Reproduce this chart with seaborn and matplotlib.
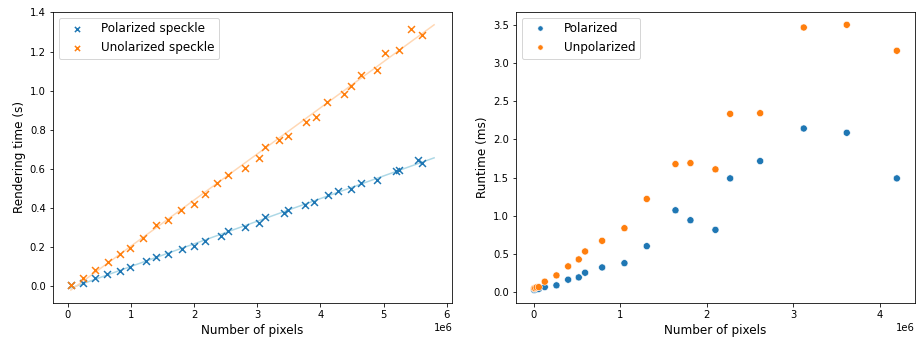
import numpy as np
import pandas as pd
import matplotlib
matplotlib.use("Agg")
import matplotlib.pyplot as plt
import seaborn as sns

# ---- Rendering time (s) vs number of pixels ----
pol_speckle_px = [0.053, 0.244, 0.434, 0.630, 0.837, 0.995, 1.249, 1.392, 1.593, 1.810,
                  2.000, 2.170, 2.429, 2.546, 2.810, 3.022, 3.127, 3.419, 3.487, 3.752,
                  3.905, 4.122, 4.276, 4.487, 4.651, 4.900, 5.191, 5.244, 5.540, 5.609]
pol_speckle_time = [0.005, 0.017, 0.042, 0.061, 0.080, 0.097, 0.129, 0.152, 0.167, 0.192,
                    0.208, 0.233, 0.257, 0.284, 0.303, 0.325, 0.353, 0.373, 0.390, 0.417,
                    0.431, 0.467, 0.486, 0.499, 0.530, 0.542, 0.590, 0.597, 0.648, 0.630]
unpol_speckle_px = [0.053, 0.244, 0.434, 0.635, 0.837, 0.995, 1.196, 1.397, 1.593, 1.789,
                    2.000, 2.170, 2.360, 2.546, 2.810, 3.022, 3.127, 3.344, 3.492, 3.778,
                    3.932, 4.112, 4.371, 4.487, 4.646, 4.895, 5.027, 5.239, 5.435, 5.609]
unpol_speckle_time = [0.005, 0.042, 0.083, 0.126, 0.167, 0.198, 0.249, 0.314, 0.338, 0.392,
                      0.423, 0.472, 0.527, 0.569, 0.607, 0.655, 0.713, 0.747, 0.770, 0.839,
                      0.866, 0.941, 0.985, 1.026, 1.081, 1.105, 1.195, 1.210, 1.314, 1.284]
fit_x_max = 5.8  # fitted lines are drawn up to this pixel count (millions)

# ---- Runtime (ms) vs number of pixels ----
runtime_px = [0.004, 0.016, 0.033, 0.058, 0.127, 0.262, 0.397, 0.520, 0.593, 0.790,
              1.048, 1.306, 1.638, 1.811, 2.100, 2.270, 2.617, 3.121, 3.618, 4.197]
runtime_pol = [0.030, 0.035, 0.040, 0.045, 0.069, 0.091, 0.165, 0.195, 0.256, 0.325,
               0.381, 0.603, 1.072, 0.942, 0.816, 1.489, 1.715, 2.141, 2.085, 1.489]
runtime_unpol = [0.052, 0.055, 0.065, 0.068, 0.139, 0.221, 0.339, 0.430, 0.534, 0.673,
                 0.838, 1.220, 1.676, 1.689, 1.607, 2.332, 2.341, 3.461, 3.496, 3.157]

C_BLUE = "#1f77b4"
C_ORANGE = "#ff7f0e"

DPI = 72
fig = plt.figure(figsize=(917 / DPI, 340 / DPI), dpi=DPI)
ax1 = fig.add_axes([0.0575, 0.108, 0.4357, 0.858])
ax2 = fig.add_axes([0.5627, 0.108, 0.4351, 0.858])

legend_kw = dict(loc="upper left", fontsize=12, handlelength=2.2,
                 handletextpad=0.9, markerscale=0.75)

# Left: scatter + linear fits
speckle = {
    "Polarized speckle": (pol_speckle_px, pol_speckle_time, C_BLUE, "lightblue"),
    "Unolarized speckle": (unpol_speckle_px, unpol_speckle_time, C_ORANGE, "#ffd8b5"),
}
for label, (px, t, col, line_col) in speckle.items():
    px = np.asarray(px) * 1e6
    t = np.asarray(t)
    slope, intercept = np.polyfit(px, t, 1)
    xs = np.linspace(px.min(), fit_x_max * 1e6, 50)
    sns.lineplot(x=xs, y=slope * xs + intercept, ax=ax1, color=line_col,
                 linewidth=1.5, legend=False, zorder=1)
for label, (px, t, col, line_col) in speckle.items():
    sns.scatterplot(x=np.asarray(px) * 1e6, y=t, ax=ax1, marker="x", color=col,
                    s=48, linewidth=1.5, label=label, zorder=3)

ax1.set_xlabel("Number of pixels", fontsize=12)
ax1.set_ylabel("Rendering time (s)", fontsize=12)
ax1.legend(**legend_kw)

# Right: runtime scatter
rt = pd.DataFrame({
    "pixels": np.asarray(runtime_px * 2) * 1e6,
    "runtime": runtime_pol + runtime_unpol,
    "kind": ["Polarized"] * len(runtime_px) + ["Unpolarized"] * len(runtime_px),
})
sns.scatterplot(data=rt, x="pixels", y="runtime", hue="kind",
                palette=[C_BLUE, C_ORANGE], s=50, ax=ax2)
ax2.set_xlabel("Number of pixels", fontsize=12)
ax2.set_ylabel("Runtime (ms)", fontsize=12)
ax2.legend(**legend_kw)

for ax in (ax1, ax2):
    ax.tick_params(labelsize=10)
    ax.xaxis.get_offset_text().set_fontsize(10)

fig.savefig("out.png", dpi=DPI)
